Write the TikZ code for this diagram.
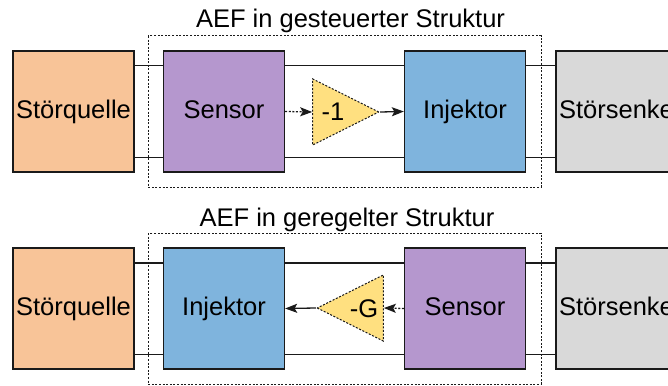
\documentclass[tikz,border=0pt]{standalone}
\usepackage{fontspec}
\setmainfont{Liberation Sans}
\usetikzlibrary{shapes.geometric,arrows.meta,backgrounds}
\definecolor{cquelle}{RGB}{248,196,152}
\definecolor{csensor}{RGB}{181,151,206}
\definecolor{cinj}{RGB}{127,180,221}
\definecolor{csenke}{RGB}{217,217,217}
\definecolor{ctri}{RGB}{255,224,128}
\definecolor{cline}{RGB}{26,26,26}
\begin{document}
\begin{tikzpicture}[x=1pt,y=-1pt,
 every node/.style={font=\fontsize{25.5}{30}\selectfont},
 blockbox/.style={draw=cline, line width=1.3pt, minimum width=121pt, minimum height=121pt, inner sep=0pt, text height=19pt, text depth=5.4pt},
 ampl/.style={isosceles triangle, isosceles triangle stretches, draw=cline, fill=ctri, dash pattern=on 2pt off 1.6pt, line width=1pt, minimum width=66pt, minimum height=66pt, inner sep=0pt},
 framebox/.style={draw=cline, dash pattern=on 2pt off 1.6pt, line width=1pt},
 wire/.style={draw=cline, line width=1.3pt},
 sigarrow/.style={draw=cline, line width=1.3pt, -{Stealth[length=12pt,width=9pt,inset=2.5pt]}},
 dotarrow/.style={sigarrow, dash pattern=on 2pt off 1.6pt},
]
\useasboundingbox (0,0) rectangle (668,385);

% ---------- top: gesteuerte Struktur ----------
\node[anchor=base] (t1) at (350.5,28) {AEF in gesteuerter Struktur};
\draw[framebox] (148,36) rectangle (541,187);
\node[blockbox, fill=cquelle] (q1) at (73.5,111.5) {Störquelle};
\node[blockbox, fill=csensor] (s1) at (224,111.5) {Sensor};
\node[blockbox, fill=cinj] (i1) at (465,111.5) {Injektor};
\node[blockbox, fill=csenke] (k1) at (616.5,111.5) {Störsenke};
\node[ampl, anchor=east] (g1) at (380,112) {};
\node[anchor=base] (l1) at (333,121) {-1};
\draw[dotarrow] (s1.east) -- (g1.west);
\draw[sigarrow] (g1.east) -- (i1.west);

% ---------- bottom: geregelte Struktur ----------
\node[anchor=base] (t2) at (347,226) {AEF in geregelter Struktur};
\draw[framebox] (148,233) rectangle (541,384);
\node[blockbox, fill=cquelle] (q2) at (73.5,308.5) {Störquelle};
\node[blockbox, fill=cinj] (i2) at (224,308.5) {Injektor};
\node[blockbox, fill=csensor] (s2) at (465,308.5) {Sensor};
\node[blockbox, fill=csenke] (k2) at (616.5,308.5) {Störsenke};
\node[ampl, shape border rotate=180, anchor=west] (g2) at (316,308) {};
\node[anchor=base] (l2) at (364,317) {-G};
\draw[dotarrow] (s2.west) -- (g2.east);
\draw[sigarrow] (g2.west) -- (i2.east);

\begin{scope}[on background layer]
\draw[wire] ([yshift=-15.5pt]q1.north east) -- ([yshift=-15.5pt]k1.north west);
\draw[wire] ([yshift=15.5pt]q1.south east) -- ([yshift=15.5pt]k1.south west);
\draw[wire] ([yshift=-15.5pt]q2.north east) -- ([yshift=-15.5pt]k2.north west);
\draw[wire] ([yshift=15.5pt]q2.south east) -- ([yshift=15.5pt]k2.south west);
\end{scope}
\end{tikzpicture}
\end{document}
